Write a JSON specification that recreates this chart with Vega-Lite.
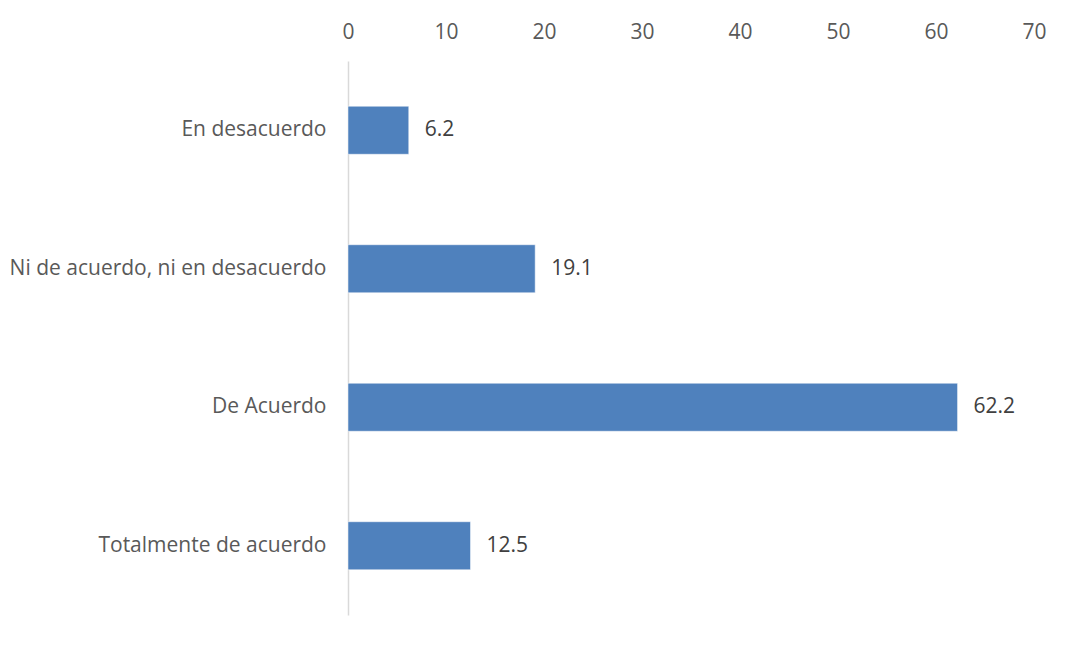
{
  "$schema": "https://vega.github.io/schema/vega-lite/v6.json",
  "width": 686,
  "height": 554,
  "autosize": {"type": "none"},
  "padding": {"left": 348, "top": 61, "right": 47, "bottom": 36},
  "background": "white",
  "config": {
    "view": {"stroke": null},
    "font": "Open Sans"
  },
  "data": {
    "values": [
      {"categoria": "En desacuerdo", "valor": 6.2},
      {"categoria": "Ni de acuerdo, ni en desacuerdo", "valor": 19.1},
      {"categoria": "De Acuerdo", "valor": 62.2},
      {"categoria": "Totalmente de acuerdo", "valor": 12.5}
    ]
  },
  "encoding": {
    "y": {
      "field": "categoria",
      "type": "nominal",
      "sort": null,
      "scale": {"paddingInner": 0.653, "paddingOuter": 0.3265},
      "axis": {
        "title": null,
        "ticks": false,
        "domain": true,
        "domainColor": "#d9d9d9",
        "domainWidth": 1.5,
        "labelFont": "Open Sans",
        "labelFontSize": 21,
        "labelColor": "#595959",
        "labelPadding": 22,
        "labelLimit": 400
      }
    },
    "x": {
      "field": "valor",
      "type": "quantitative",
      "scale": {"domain": [0, 70], "nice": false},
      "axis": {
        "orient": "top",
        "title": null,
        "values": [0, 10, 20, 30, 40, 50, 60, 70],
        "grid": false,
        "ticks": false,
        "domain": false,
        "labelFont": "Open Sans",
        "labelFontSize": 21,
        "labelColor": "#595959",
        "labelPadding": 19,
        "labelFlush": false
      }
    }
  },
  "layer": [
    {
      "mark": {"type": "bar", "color": "#4f81bd", "stroke": "#ffffff", "strokeWidth": 0.5}
    },
    {
      "mark": {"type": "text", "align": "left", "baseline": "middle", "dx": 16, "fontSize": 21, "font": "Open Sans", "color": "#404040"},
      "encoding": {
        "text": {"field": "valor", "type": "quantitative", "format": ".1f"}
      }
    }
  ]
}
